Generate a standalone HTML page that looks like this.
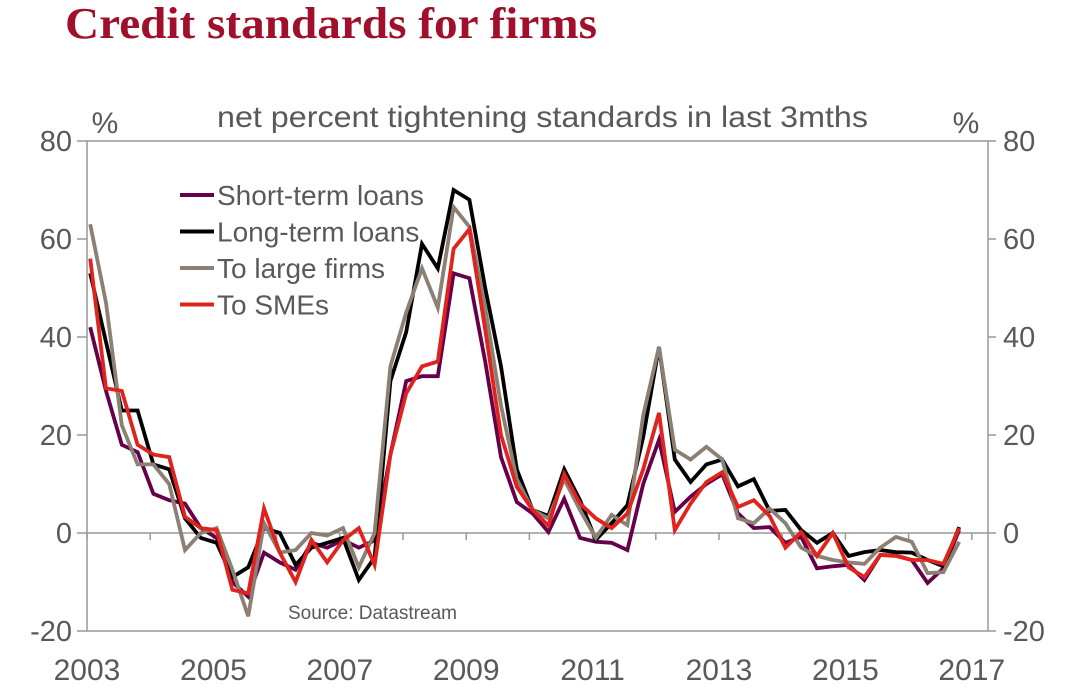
<!DOCTYPE html>
<html><head><meta charset="utf-8"><style>
body{margin:0;background:#fff;width:1071px;height:692px;overflow:hidden}
svg text{font-family:"Liberation Sans",sans-serif}
</style></head><body>
<svg id="chart" width="1071" height="692">
<text x="65" y="38" font-weight="bold" font-size="44" textLength="532" lengthAdjust="spacingAndGlyphs" fill="#a0102a" style="font-family:'Liberation Serif',serif">Credit standards for firms</text>
<text x="217" y="127" font-size="30" textLength="651" lengthAdjust="spacingAndGlyphs" fill="#595959">net percent tightening standards in last 3mths</text>
<text x="105" y="133" text-anchor="middle" font-size="30" fill="#595959">%</text>
<text x="966" y="133" text-anchor="middle" font-size="30" fill="#595959">%</text>
<g id="axes"></g>
<g id="series"></g>
<g id="legend"></g>
<text x="288" y="619" font-size="19" fill="#595959">Source: Datastream</text>
</svg>
<script>
const yTicks=[-20,0,20,40,60,80];
const xTickYears=[2003,2005,2007,2009,2011,2013,2015,2017];
const seriesNames=["Short-term loans","Long-term loans","To large firms","To SMEs"];
const shortTerm=[42,29,18,16.5,8,6.7,6,1,-1,-10,-13,-4,-6,-7.5,-2,-3,-1.4,-3,-1.5,16,31,32,32,53,52,35,15.5,6.3,4,0.2,7,-1,-1.8,-2,-3.5,10,19,4.3,7.4,10,12,4,1,1.2,-2,-0.8,-7.2,-6.8,-6.5,-9.6,-4.5,-4.6,-5.5,-10.2,-7.2,0.6];
const longTerm=[53,39,25,25,14,13,3,-1,-2,-9,-7,1,0,-6.5,-3,-2,-1,-9.6,-5,31,41,59,54,70,68,50,34,13,4.7,3.5,13,6.7,-1.4,2,5.7,19.6,38,15,10.4,14,15,9.5,11,4.5,4.7,0.6,-2,0,-4.7,-3.9,-3.5,-3.9,-4,-5.5,-6.8,1.2];
const largeFirms=[63,47,22,14,14,10,-3.5,0,1,-7.5,-17,2,-4,-3.5,0,-0.5,1,-7,0,34,45,54,46,66.5,62.5,46,26,11,4.7,3,11,4.7,-1,3.7,1.6,24,38,17,15,17.6,15,3,2,5,2,-3,-4.7,-5.5,-6,-6.3,-3,-0.8,-1.8,-8.2,-8,-1.8];
const smes=[56,29.5,29,18,16,15.5,3.3,1,0.6,-11.6,-12.3,5,-4,-10,-1.4,-6,-1.5,1,-6.5,16,28.5,34,35,58,62,41.5,20,9.4,4.7,1.5,12,6,3,1,4,13,24.5,0.6,6,10.4,12.4,5.3,6.7,3.5,-3,0.2,-4.7,0,-7,-9,-4.5,-4.7,-5.5,-5.5,-6.3,1];
const colors=["#66004a","#000000","#8c7f73","#e0231c"];
const NS="http://www.w3.org/2000/svg";
const L=87,R=988,T=141,B=631;
function yScale(v){return B-(v+20)*(B-T)/100;}
function xYear(y){return 87+(y-2003)*63.2;}
function xIndex(i){return xYear(2003+0.05+i*0.25);}
function mk(tag,attrs,parent){const e=document.createElementNS(NS,tag);for(const k in attrs)e.setAttribute(k,attrs[k]);parent.appendChild(e);return e;}
const axes=document.getElementById('axes');
let e;
e=mk('rect',{x:L,y:T,width:R-L,height:B-T,fill:'none',stroke:'#999','stroke-width':1.5},axes);


e=mk('line',{x1:L,x2:R,y1:yScale(0),y2:yScale(0),stroke:'#999','stroke-width':1.5},axes);


yTicks.forEach(v=>{
  const y=yScale(v);
  mk('line',{x1:L-10,x2:L,y1:y,y2:y,stroke:'#999','stroke-width':1.5},axes);
  mk('line',{x1:R,x2:R+8,y1:y,y2:y,stroke:'#999','stroke-width':1.5},axes);
  const t1=mk('text',{x:72,y:y+10,'text-anchor':'end','font-size':29,fill:'#595959'},axes);t1.textContent=v;
  
  
  const t2=mk('text',{x:1003,y:y+10,'font-size':29,fill:'#595959'},axes);t2.textContent=v;
  
  
});
for(let yr=2003;yr<=2017;yr++){
  const x=xYear(yr);
  mk('line',{x1:x,x2:x,y1:yScale(0),y2:yScale(0)+7,stroke:'#999','stroke-width':1.5},axes);
}
xTickYears.forEach(yr=>{
  const t=mk('text',{x:xYear(yr),y:680,'text-anchor':'middle','font-size':30,fill:'#595959'},axes);t.textContent=yr;
  
  
});
const sg=document.getElementById('series');
[shortTerm,longTerm,largeFirms,smes].forEach((arr,s)=>{
  const pts=arr.map((v,i)=>xIndex(i).toFixed(1)+','+yScale(v).toFixed(1)).join(' ');
  const p=mk('polyline',{points:pts,fill:'none',stroke:colors[s],'stroke-width':3.8,'stroke-linejoin':'miter'},sg);
  
  
});
const lg=document.getElementById('legend');
seriesNames.forEach((n,i)=>{
  const y=195+i*36.5;
  const l=mk('line',{x1:180,x2:214,y1:y,y2:y,stroke:colors[i],'stroke-width':4},lg);
  
  
  const t=mk('text',{x:217,y:y+10,'font-size':28,fill:'#595959'},lg);t.textContent=n;
  
  
});
</script>
</body></html>
